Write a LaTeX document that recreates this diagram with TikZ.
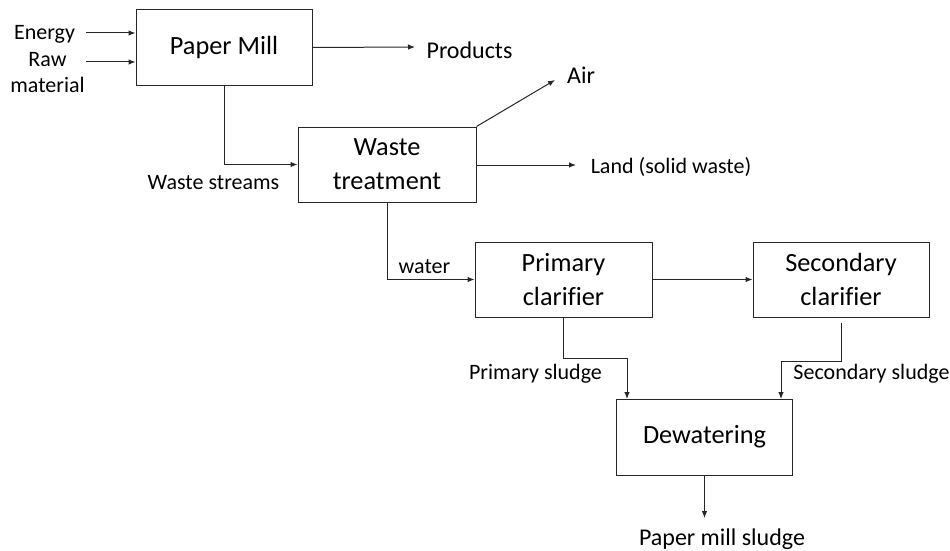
\documentclass[tikz,border=0pt]{standalone}
\usepackage{fontspec}
\setmainfont{Carlito}[Ligatures=NoCommon]
\usetikzlibrary{arrows.meta}
\begin{document}
\begin{tikzpicture}[x=1pt,y=-1pt,
  box/.style={draw=black!85,line width=1pt,minimum width=176pt,minimum height=75pt,
    align=center,font=\fontsize{26.3}{34}\selectfont,inner sep=0pt},
  lbl/.style={inner sep=0pt,anchor=mid,font=\fontsize{22}{26.5}\selectfont},
  lblb/.style={inner sep=0pt,anchor=mid,font=\fontsize{24}{28}\selectfont},
  arr/.style={draw=black!85,line width=1pt,-{Latex[length=7pt,width=5.5pt]}}]
\useasboundingbox (0,0) rectangle (950,551);
% boxes
\node[box] (pm) at (224,47.5) {Paper Mill};
\node[box,minimum width=178pt] (wt) at (387,164.5) {Waste\\treatment};
\node[box,minimum width=177pt] (pc) at (563.5,279.5) {Primary\\clarifier};
\node[box] (sc) at (841,279.5) {Secondary\\clarifier};
\node[box,minimum height=76pt] (dw) at (704.5,437) {Dewatering};
% labels
\node[lbl] (energy) at (44.5,37) {Energy};
\node[lbl] (raw) at (47.5,64) {Raw};
\node[lbl] (material) at (47.5,90) {material};
\node[lblb] (products) at (469.5,56) {Products};
\node[lblb] (air) at (581,81) {Air};
\node[lbl] (land) at (671,171.5) {Land (solid waste)};
\node[lbl] (wstreams) at (213.5,187.5) {Waste streams};
\node[lbl] (water) at (424.5,271.5) {water};
\node[lbl] (psl) at (535.5,377.5) {Primary sludge};
\node[lbl] (ssl) at (871.5,377.5) {Secondary sludge};
\node[lblb] (pms) at (722,543) {Paper mill sludge};
% coordinates
\coordinate (e1) at (86,33);
\coordinate (r1) at (86,62);
\coordinate (p1) at (415,47);
\coordinate (a1) at (555,80);
\coordinate (l1) at (576,165);
\coordinate (ps) at (627,399);
\coordinate (ss) at (781,399);
\coordinate (m1) at (704.5,518);
% connectors
\draw[arr] (e1) -- (pm.west |- e1);
\draw[arr] (r1) -- (pm.west |- r1);
\draw[arr] (pm.east) -- (p1);
\draw[arr] (pm.south) |- (wt.west);
\draw[arr] (wt.north east) -- (a1);
\draw[arr] (wt.east |- l1) -- (l1);
\draw[arr] (wt.south) |- (pc.west);
\draw[arr] (pc.east) -- (sc.west);
\draw[arr] (pc.south) -- ++(0,41) -| (ps);
\draw[arr] ([yshift=-5pt]sc.south) -- ++(0,39) -| (ss);
\draw[arr] (dw.south) -- (m1);
\end{tikzpicture}
\end{document}
